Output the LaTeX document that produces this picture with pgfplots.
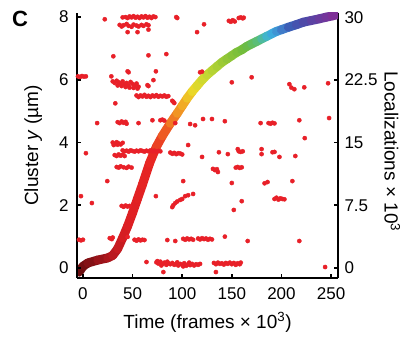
\documentclass[border=0pt]{standalone}
\usepackage{fontspec}
\setmainfont{Liberation Sans}
\usepackage{pgfplots}
\pgfplotsset{compat=1.18}
\definecolor{ptred}{RGB}{232,32,40}
\pgfplotsset{colormap={locmap}{
 rgb255(0cm)=(100,12,14)
 rgb255(30cm)=(165,22,28)
 rgb255(50cm)=(220,30,35)
 rgb255(75cm)=(232,38,35)
 rgb255(90cm)=(238,95,35)
 rgb255(105cm)=(242,160,35)
 rgb255(117cm)=(235,215,40)
 rgb255(130cm)=(200,218,50)
 rgb255(150cm)=(150,200,55)
 rgb255(170cm)=(110,188,60)
 rgb255(183cm)=(90,190,120)
 rgb255(195cm)=(60,180,225)
 rgb255(207cm)=(65,130,205)
 rgb255(217cm)=(60,90,180)
 rgb255(235cm)=(85,70,165)
 rgb255(261cm)=(130,45,150)
}}
\pgfplotsset{common/.style={
  width=261pt, height=265pt, scale only axis,
  xmin=-6, xmax=257,
  axis line style={line width=1.6pt},
  major tick length=4.5pt,
  tick style={line width=1.6pt, black},
  tick align=inside,
  /pgf/number format/assume math mode=true,
  ticklabel style={font=\fontsize{17}{17}\selectfont},
  label style={font=\fontsize{19}{22}\selectfont},
}}
\begin{document}
\begin{tikzpicture}
\begin{axis}[common,
  ymin=-1.2, ymax=30.5,
  axis y line*=right, axis x line=none,
  ytick={0,7.5,15,22.5,30}, yticklabels={0,7.5,15,22.5,30},
  yticklabel style={xshift=3pt},
  ylabel={Localizations × 10\textsuperscript{3}},
  ylabel style={rotate=180, xshift=6pt},
  point meta min=-5, point meta max=256,
  colormap name=locmap,
]
\addplot[mesh, point meta=x, line width=9pt, line cap=round, line join=round] coordinates {
(-4,-0.5) (0,0.2) (5,0.6) (15,0.95) (25,1.2) (30,1.5) (35,2.3) (40,3.6) (45,5.0)
(50,6.6) (55,8.3) (60,10.0) (67,12.5) (74,14.5) (80,15.8) (88,17.3) (95,18.5)
(100,19.4) (105,20.3) (110,21.1) (115,21.8) (120,22.5) (125,23.1) (130,23.6) (135,24.1) (140,24.6) (145,25.0)
(150,25.4) (155,25.8) (160,26.1) (165,26.5) (170,26.8) (175,27.1) (180,27.4) (185,27.7) (190,28.0)
(195,28.3) (200,28.5) (207,28.8) (215,29.1) (222,29.4) (230,29.6) (238,29.8) (245,30.0) (251,30.15) (256,30.3)
};
\end{axis}
\begin{axis}[common,
  ymin=-0.32, ymax=8.13,
  axis x line*=bottom, axis y line*=left,
  xtick={0,50,100,150,200,250},
  ytick={0,2,4,6,8},
  xticklabel style={yshift=-6pt},
  yticklabel style={xshift=-5pt},
  xlabel={Time (frames × 10\textsuperscript{3})},
  xlabel style={yshift=-6pt},
  ylabel={Cluster \textit{y} (µm)},
  ylabel style={yshift=10pt},
]
\addplot[only marks, mark=*, mark size=2.1pt, color=ptred] coordinates {
(43,8.0)(45,7.97)(47,8.02)(49,7.99)(51,8.03)(53,7.98)(55,8.01)(57,7.97)(59,8.02)(61,7.99)(63,8.03)(65,7.98)(67,8.01)(69,7.97)(71,8.02)(73,8.0)(40,7.99)
(37,7.75)(39,7.7)(41,7.74)(44,7.78)(46,7.72)(49,7.69)(51,7.76)(54,7.73)(56,7.7)(59,7.75)(61,7.72)(64,7.77)(66,7.74)
(45,7.52)(55,7.52)(66,7.6)
(22,7.93)(94,8.0)(95,7.97)(115,7.52)(122,7.77)
(147,7.88)(149,7.85)(151,7.9)(153,7.86)(157,7.97)(159,7.99)(161,7.96)(162,7.98)
(30.6,6.75)(66,6.78)(84,6.82)
(-5,6.11)(-3,6.09)(-1,6.12)(1,6.1)(3,6.11)
(28.6,6.11)
(30,5.95)(32,5.9)(34,5.97)(36,5.92)(38,5.88)(40,5.95)(42,5.85)(44,5.9)(46,5.82)(48,5.93)(50,5.87)(52,5.8)(54,5.88)(56,5.78)
(35,5.82)(39,5.8)(43,5.77)(47,5.75)(51,5.74)(55,5.72)
(45,6.27)(46,6.24)(73.5,6.27)(71,5.99)(65,5.83)(66,5.8)
(118,6.24)(120,6.26)(150,5.92)(170,6.08)(208,5.86)(210,5.75)(213,5.7)(223,5.76)(247,5.89)
(54,5.5)(56,5.45)(58,5.5)(60,5.47)(62,5.52)(64,5.46)(66,5.49)(68,5.45)(70,5.5)(72,5.47)(74,5.51)(76,5.46)(78,5.49)(80,5.47)(82,5.5)(84,5.46)(86,5.48)
(91,5.3)(92,5.26)(90,5.33)(32.6,5.25)
(14.3,4.62)
(35,4.65)(37,4.62)(39,4.67)(41,4.63)(43,4.66)(44,4.6)
(56,4.62)(70,4.71)(78,4.71)(80,4.73)(82,4.7)(93,4.62)(108,4.59)(113,4.55)(121,4.75)(130,4.75)(143,4.68)
(179,4.62)(187,4.62)(189,4.6)(191,4.63)(193,4.61)(218,4.71)(248,4.78)
(30,4.0)(32,3.95)(34,4.01)(36,3.97)(38,3.94)(40,3.99)(31,3.92)(35,3.93)
(3,3.66)
(40,3.75)(42,3.72)(44,3.74)(46,3.71)(48,3.75)(50,3.73)(52,3.71)(54,3.74)(56,3.72)(58,3.75)(60,3.73)(62,3.71)(64,3.74)(66,3.72)(68,3.75)(70,3.72)(72,3.74)(74,3.71)(76,3.73)(78,3.72)
(32,3.6)(34,3.57)(36,3.62)(38,3.58)(40,3.61)(42,3.57)
(88,3.68)(90,3.64)(92,3.67)(94,3.63)(96,3.66)(98,3.65)(100,3.62)
(106,3.92)(120,3.54)(137,3.69)(146,3.63)(156,3.79)(157,3.72)(159,3.7)(161,3.72)(180,3.79)(180,3.63)(191,3.69)(193,3.7)(198,3.54)(214,3.57)(223.5,4.14)
(34,3.22)(36,3.2)(38,3.24)(41,3.21)(44,3.19)(46,3.23)(49,3.2)
(131,3.16)(133,3.12)(135,3.15)(136,3.06)(154,3.2)(156,3.22)(158,3.19)(160,3.21)
(24.5,2.77)(-2,2.29)(9,2.07)(73.5,2.29)
(39,1.98)(41,1.95)(43,1.99)(45,1.96)(47,1.98)
(90,1.94)(91,2.0)(93,2.07)(95,2.12)(98,2.17)(100,2.2)(103,2.29)(106,2.32)(111,2.36)
(101,2.77)(150,2.71)(152,1.85)(183,2.7)(186,2.74)(211,2.77)(160,2.13)
(193,2.2)(195,2.24)(197,2.18)(199,2.22)(201,2.2)(203,2.19)
(-4,0.9)(-2,0.88)(0,0.9)(27,0.95)(29,0.92)(30,0.97)(45,0.99)
(52,0.9)(54,0.87)(56,0.91)(58,0.88)(60,0.9)(62,0.89)(85,0.89)(93,0.86)
(101,0.93)(103,0.9)(105,0.94)(107,0.91)(109,0.93)(111,0.9)
(116,0.94)(118,0.91)(120,0.95)(122,0.92)(124,0.94)(126,0.9)(128,0.93)(130,0.91)
(143,1.0)(166,0.86)(218,0.86)
(64,0.19)
(74,0.18)(76,0.14)(78,0.2)(80,0.12)(82,0.17)(84,0.1)(86,0.15)(88,0.12)(90,0.16)(92,0.1)(94,0.14)(96,0.08)(98,0.13)(100,0.1)(102,0.15)(104,0.07)(106,0.12)(108,0.09)(110,0.13)(112,0.08)(114,0.12)(116,0.1)(118,0.13)
(75,0.22)(79,0.08)(85,0.2)(95,0.18)(101,0.05)(107,0.17)
(81,-0.13)
(132,0.16)(134,0.12)(136,0.17)(138,0.13)(140,0.15)(142,0.11)(144,0.16)(146,0.13)(148,0.17)(150,0.12)(152,0.16)(154,0.1)(156,0.15)(158,0.12)(159,0.17)
(134,-0.13)(244,0.03)
};
\end{axis}
\node[font=\bfseries\fontsize{22}{22}\selectfont] at ([xshift=-57pt,yshift=-6pt]current axis.north west) {C};
\pgfresetboundingbox
\path[use as bounding box] ([xshift=-77pt,yshift=-63pt]current axis.south west) rectangle ([xshift=76pt,yshift=13pt]current axis.north east);
\end{tikzpicture}
\end{document}
